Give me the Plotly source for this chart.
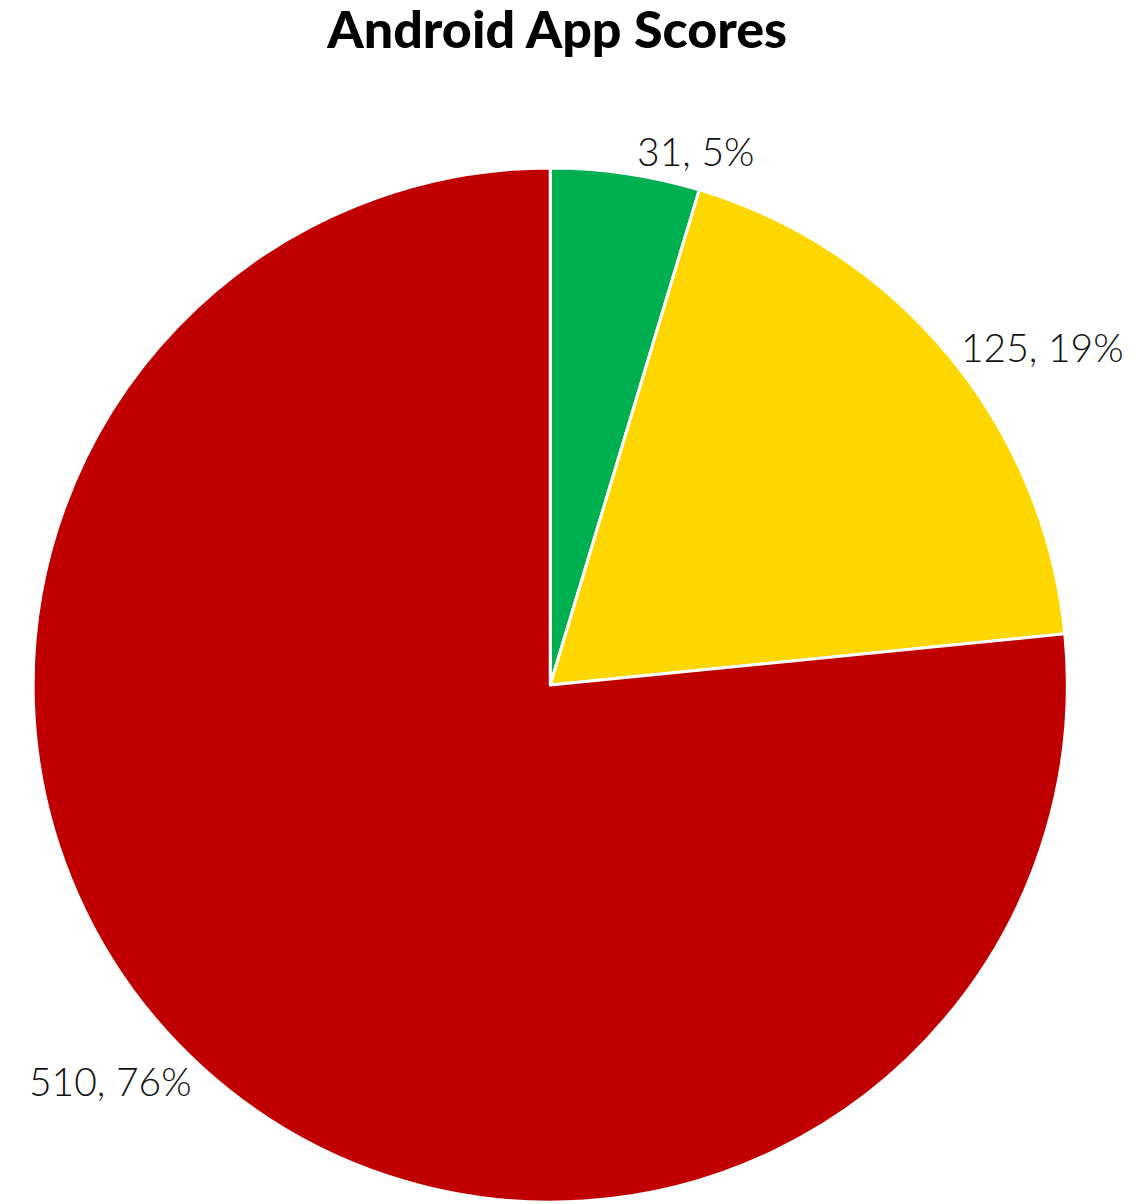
import plotly.graph_objects as go

labels = ["Green", "Yellow", "Red"]
values = [31, 125, 510]
percent_labels = ["5%", "19%", "76%"]
colors = ["#00B050", "#FFD700", "#C00000"]

fig = go.Figure(go.Pie(
    labels=labels,
    values=values,
    text=percent_labels,
    marker=dict(colors=colors, line=dict(color="white", width=3)),
    sort=False,
    direction="clockwise",
    rotation=0,
    textposition="outside",
    texttemplate="%{value}, %{text}",
    textfont=dict(family="Lato, sans-serif", size=39, color="#111111", weight=300),
    showlegend=False,
    hoverinfo="label+value+percent",
    domain=dict(x=[0, 0.9475], y=[0.0082, 0.8672]),
))

fig.update_layout(
    width=1137, height=1204,
    title=dict(text="Android App Scores", x=0.483, xanchor="center", y=0.982, yanchor="middle",
               font=dict(family="Lato, sans-serif", size=52, color="black", weight=900)),
    margin=dict(l=0, r=0, t=0, b=0),
    paper_bgcolor="white",
)

fig.write_html("out.html")
